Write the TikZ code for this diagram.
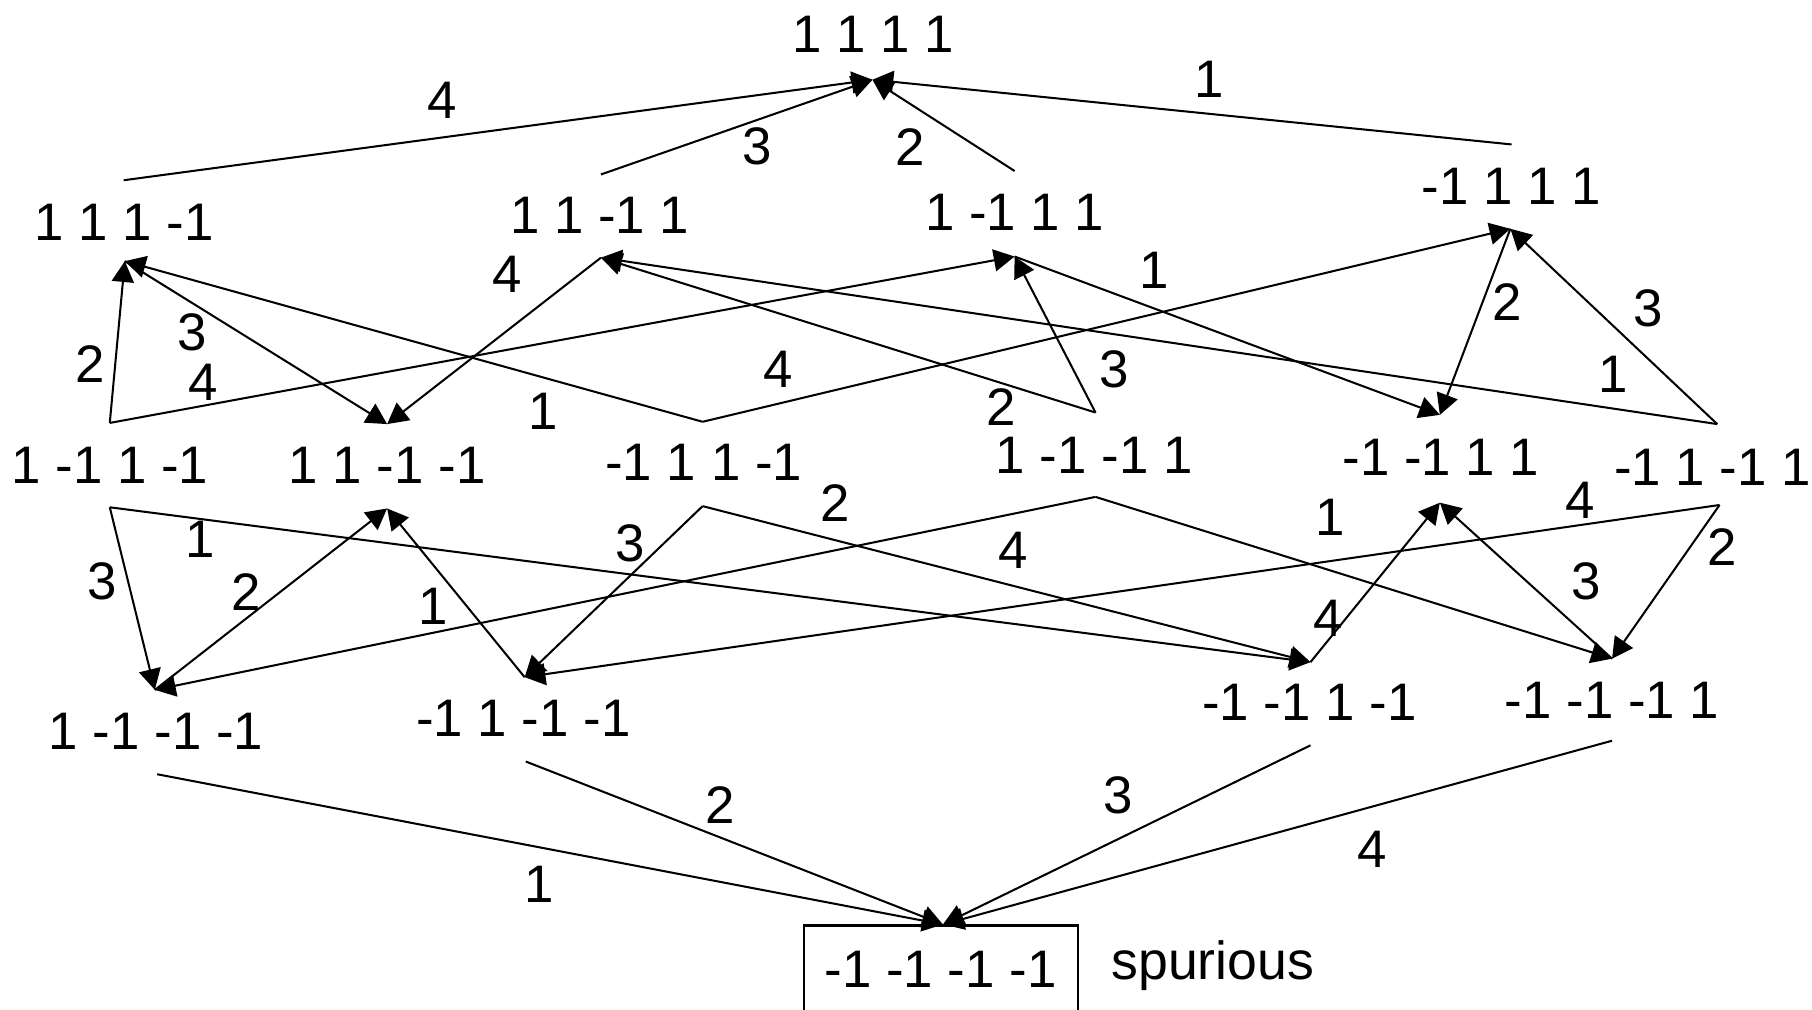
\documentclass[tikz,border=0pt]{standalone}
\usepackage{fontspec}
\setmainfont{Liberation Sans}
\usetikzlibrary{arrows.meta}
\begin{document}
\begin{tikzpicture}[x=0.01cm,y=-0.01cm,
  st/.style={inner sep=0pt, font=\fontsize{13}{16}\selectfont},
  lab/.style={inner sep=0pt, font=\fontsize{13.2}{16}\selectfont},
  arr/.style={-{Triangle[length=1.8mm,width=1.9mm]}, line width=0.5pt},
  boxst/.style={draw, line width=0.5pt, inner sep=0pt, minimum width=2.37cm, minimum height=0.95cm, anchor=north}]
\useasboundingbox (0,0) rectangle (1568,874);
% state texts
\node[st] (s1111) at (756,29.5) {1 1 1 1};
\node[st] (s111m) at (107.5,192) {1 1 1 -1};
\node[st] (s11m1) at (519,186) {1 1 -1 1};
\node[st] (s1m11) at (878,184) {1 -1 1 1};
\node[st] (sm111) at (1308,161) {-1 1 1 1};
\node[st] (s1m1m) at (95,402.5) {1 -1 1 -1};
\node[st] (s11mm) at (335,402.5) {1 1 -1 -1};
\node[st] (sm11m) at (609,400) {-1 1 1 -1};
\node[st] (s1mm1) at (947,394) {1 -1 -1 1};
\node[st] (smm11) at (1247,396) {-1 -1 1 1};
\node[st] (sm1m1) at (1482,404) {-1 1 -1 1};
\node[st] (s1mmm) at (135,633) {1 -1 -1 -1};
\node[st] (sm1mm) at (453,622) {-1 1 -1 -1};
\node[st] (smm1m) at (1133,608) {-1 -1 1 -1};
\node[st] (smmm1) at (1395,606) {-1 -1 -1 1};
\node[boxst] (box) at (814.5,800) {};
\node[st] (sbot) at (814,839) {-1 -1 -1 -1};
\node[lab, anchor=base west] (spur) at (961,848) {spurious};
% connection points
\coordinate (p1111) at (755,69);
\coordinate (t111m) at (107,156);  \coordinate (b111m) at (108,226);
\coordinate (t11m1) at (520,151);  \coordinate (b11m1) at (520,223);
\coordinate (t1m11) at (878,148);  \coordinate (b1m11) at (878,222);
\coordinate (tm111) at (1308,125); \coordinate (bm111) at (1307,198);
\coordinate (t1m1m) at (95,366);   \coordinate (b1m1m) at (95,439);
\coordinate (t11mm) at (335,367);  \coordinate (b11mm) at (335,440);
\coordinate (tm11m) at (608,365);  \coordinate (bm11m) at (608,438);
\coordinate (t1mm1) at (948,357);  \coordinate (b1mm1) at (948,430);
\coordinate (tmm11) at (1246,359); \coordinate (bmm11) at (1246,435);
\coordinate (tm1m1) at (1486,367); \coordinate (bm1m1) at (1488,437);
\coordinate (t1mmm) at (134,597);  \coordinate (b1mmm) at (136,670);
\coordinate (tm1mm) at (454,586);  \coordinate (bm1mm) at (455,659);
\coordinate (tmm1m) at (1134,573); \coordinate (bmm1m) at (1134,645);
\coordinate (tmmm1) at (1395,570); \coordinate (bmmm1) at (1395,641);
\coordinate (pbot) at (816,800);
% top level
\draw[arr] (t111m) -- (p1111);
\draw[arr] (t11m1) -- (p1111);
\draw[arr] (t1m11) -- (p1111);
\draw[arr] (tm111) -- (p1111);
% level 2 -> level 1
\draw[arr] (t1m1m) -- (b111m);
\draw[arr] (t1m1m) -- (b1m11);
\draw[arr] (b111m) -- (t11mm);
\draw[arr] (b11m1) -- (t11mm);
\draw[arr] (tm11m) -- (b111m);
\draw[arr] (tm11m) -- (bm111);
\draw[arr] (t1mm1) -- (b11m1);
\draw[arr] (t1mm1) -- (b1m11);
\draw[arr] (b1m11) -- (tmm11);
\draw[arr] (bm111) -- (tmm11);
\draw[arr] (tm1m1) -- (bm111);
\draw[arr] (tm1m1) -- (b11m1);
% level 2 -> level 3
\draw[arr] (b1m1m) -- (t1mmm);
\draw[arr] (b1m1m) -- (tmm1m);
\draw[arr] (t1mmm) -- (b11mm);
\draw[arr] (tm1mm) -- (b11mm);
\draw[arr] (bm11m) -- (tm1mm);
\draw[arr] (bm11m) -- (tmm1m);
\draw[arr] (b1mm1) -- (t1mmm);
\draw[arr] (b1mm1) -- (tmmm1);
\draw[arr] (tmm1m) -- (bmm11);
\draw[arr] (tmmm1) -- (bmm11);
\draw[arr] (bm1m1) -- (tm1mm);
\draw[arr] (bm1m1) -- (tmmm1);
% to spurious state
\draw[arr] (b1mmm) -- (pbot);
\draw[arr] (bm1mm) -- (pbot);
\draw[arr] (bmm1m) -- (pbot);
\draw[arr] (bmmm1) -- (pbot);
% labels
\node[st] (e01) at (383,87) {4};
\node[st] (e02) at (655,127) {3};
\node[st] (e03) at (788,127) {2};
\node[st] (e04) at (1046,69) {1};
\node[st] (e05) at (78,315) {2};
\node[st] (e06) at (176,331) {4};
\node[st] (e07) at (166,288) {3};
\node[st] (e08) at (439,237) {4};
\node[st] (e09) at (470,356) {1};
\node[st] (e10) at (673,320) {4};
\node[st] (e11) at (866,352) {2};
\node[st] (e12) at (964,320) {3};
\node[st] (e13) at (999,234) {1};
\node[st] (e14) at (1304,261) {2};
\node[st] (e15) at (1426,267) {3};
\node[st] (e16) at (1396,324) {1};
\node[st] (e17) at (88,503) {3};
\node[st] (e18) at (173,467) {1};
\node[st] (e19) at (213,512) {2};
\node[st] (e20) at (375,525) {1};
\node[st] (e21) at (545,470) {3};
\node[st] (e22) at (723,435) {2};
\node[st] (e23) at (877,476) {4};
\node[st] (e24) at (1151,448) {1};
\node[st] (e25) at (1149,535) {4};
\node[st] (e26) at (1373,503) {3};
\node[st] (e27) at (1367,433) {4};
\node[st] (e28) at (1490,473) {2};
\node[st] (e29) at (467,765) {1};
\node[st] (e30) at (623,697) {2};
\node[st] (e31) at (968,688) {3};
\node[st] (e32) at (1187,735) {4};
\end{tikzpicture}
\end{document}
